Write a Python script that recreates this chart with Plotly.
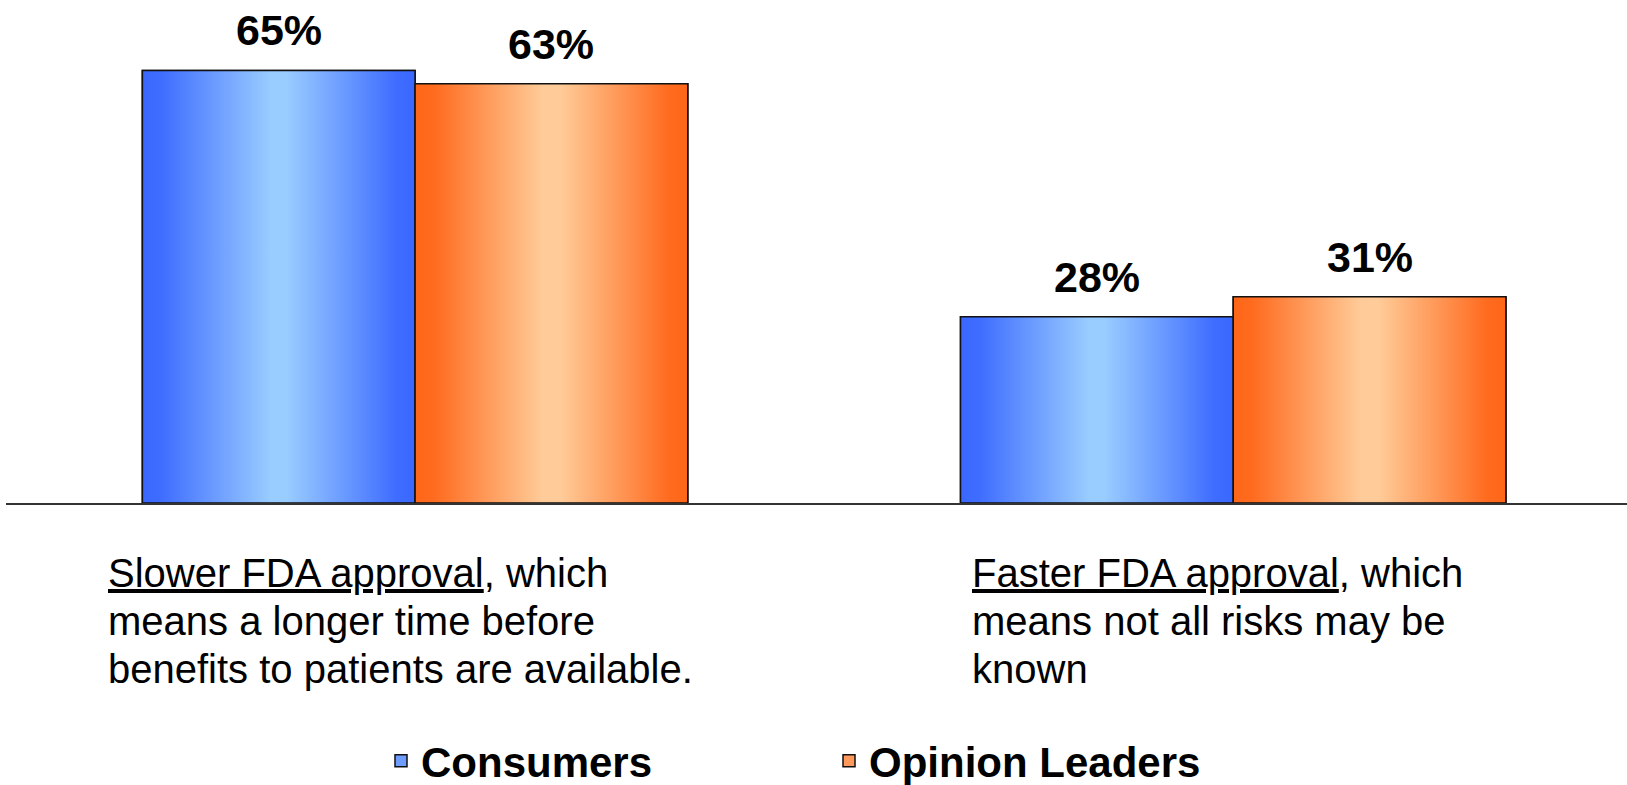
import plotly.graph_objects as go

# ---- data ----
categories = ["Slower FDA approval", "Faster FDA approval"]
series_names = ["Consumers", "Opinion Leaders"]
consumers = [65, 28]
opinion_leaders = [63, 31]
category_lines = [
    ["<u>Slower FDA approval</u>, which", "means a longer time before",
     "benefits to patients are available."],
    ["<u>Faster FDA approval</u>, which", "means not all risks may be", "known"],
]

# ---- styling / geometry ----
W, H = 1627, 785
ML = 6
PLOT_BOTTOM = 503          # pixel row of the zero line
PX_PER_UNIT = 6.655
Y_MAX = PLOT_BOTTOM / PX_PER_UNIT
FONT = "Liberation Sans, Arial, sans-serif"
BARGAP = 1 / 3
BAR_W = (1 - BARGAP) / 2

blue_scale = [[0, "#3a68ff"], [0.07, "#3f6dff"], [0.47, "#99ccff"],
              [0.53, "#99ccff"], [0.93, "#3f6dff"], [1, "#3a68ff"]]
orange_scale = [[0, "#ff6617"], [0.07, "#ff6b1f"], [0.47, "#ffcc99"],
                [0.53, "#ffcc99"], [0.93, "#ff6b1f"], [1, "#ff6617"]]
mid_colors = ["#6f9dff", "#ff9a5c"]
scales = [blue_scale, orange_scale]
series_values = [consumers, opinion_leaders]

x_idx = list(range(len(categories)))

fig = go.Figure()

for j, (name, vals) in enumerate(zip(series_names, series_values)):
    fig.add_trace(go.Bar(
        x=x_idx, y=vals, name=name,
        marker=dict(color=mid_colors[j], line=dict(color="#111111", width=1.5)),
        hoverinfo="skip",
    ))

for j, vals in enumerate(series_values):
    offset = (j - 0.5) * BAR_W
    for i, v in enumerate(vals):
        x0 = x_idx[i] + offset - BAR_W / 2
        x1 = x_idx[i] + offset + BAR_W / 2
        fig.add_trace(go.Scatter(
            x=[x0, x1, x1, x0, x0], y=[0, 0, v, v, 0],
            mode="lines", fill="toself",
            fillgradient=dict(type="horizontal", colorscale=scales[j],
                              start=x0, stop=x1),
            line=dict(color="#111111", width=1.5),
            showlegend=False, hoverinfo="skip",
        ))
        fig.add_annotation(
            x=x_idx[i] + offset, y=v, xref="x", yref="y",
            text=f"<b>{v}%</b>", showarrow=False,
            yanchor="bottom", yshift=14,
            font=dict(family=FONT, size=43, color="#000000"),
        )

# category descriptions below the axis
label_left_px = [106, 970]
baselines_px = [586, 634, 682]
LAB_FS = 40
for i, lines in enumerate(category_lines):
    for k, line in enumerate(lines):
        top_px = baselines_px[k] - 1 - 0.905 * LAB_FS
        fig.add_annotation(
            x=(label_left_px[i] - ML) / (W - ML), y=1 - top_px / H,
            xref="paper", yref="paper", xanchor="left", yanchor="top",
            text=line, showarrow=False, align="left",
            font=dict(family=FONT, size=LAB_FS, color="#000000"),
        )

fig.update_layout(
    width=W, height=H,
    margin=dict(l=ML, r=0, t=0, b=0, autoexpand=False),
    paper_bgcolor="white", plot_bgcolor="white",
    barmode="group", bargap=BARGAP, bargroupgap=0,
    showlegend=True,
    legend=dict(
        orientation="h", x=(381 - ML) / (W - ML), xanchor="left",
        y=-10 / H, yanchor="bottom",
        entrywidth=403, entrywidthmode="pixels",
        font=dict(family=FONT, size=42, color="#000000", weight="bold"),
        bgcolor="rgba(0,0,0,0)", borderwidth=0,
    ),
    xaxis=dict(range=[-0.5, 1.4813], showline=True, linecolor="#333333",
               linewidth=2, showgrid=False, zeroline=False,
               showticklabels=False, ticks=""),
    yaxis=dict(range=[0, Y_MAX], domain=[(H - PLOT_BOTTOM) / H, 1],
               showgrid=False, zeroline=False, showticklabels=False,
               showline=False, ticks=""),
    font=dict(family=FONT),
)

fig.write_html("out.html")
